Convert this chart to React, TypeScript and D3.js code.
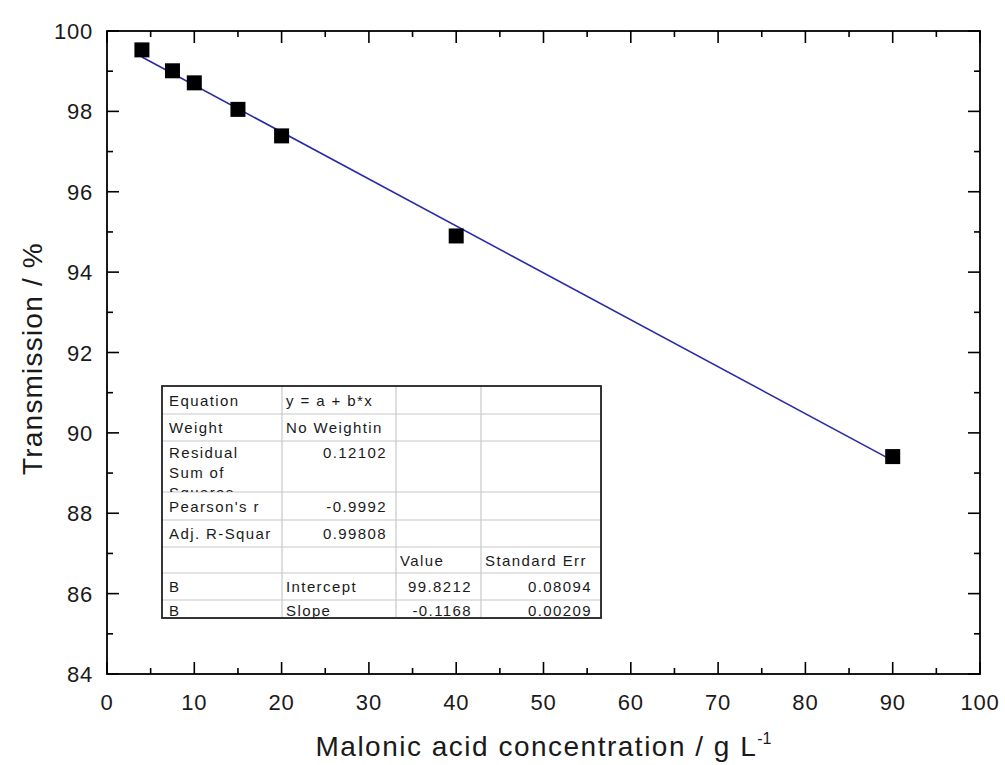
import React from "react";
import * as d3 from "d3";

// Malonic acid calibration: transmission vs concentration with linear fit
const concentration = [4, 7.5, 10, 15, 20, 40, 90];
const transmission = [99.53, 99.01, 98.71, 98.05, 97.39, 94.9, 89.41];

const fitIntercept = 99.8212;
const fitSlope = -0.1168;

const xTicksMajor = [0, 10, 20, 30, 40, 50, 60, 70, 80, 90, 100];
const yTicksMajor = [84, 86, 88, 90, 92, 94, 96, 98, 100];

// fit-report table rows: [col1, col2, col3, col4]
const tableRows: string[][] = [
  ["Equation", "y = a + b*x", "", ""],
  ["Weight", "No Weightin", "", ""],
  ["Residual\nSum of\nSquares", "0.12102", "", ""],
  ["Pearson's r", "-0.9992", "", ""],
  ["Adj. R-Squar", "0.99808", "", ""],
  ["", "", "Value", "Standard Err"],
  ["B", "Intercept", "99.8212", "0.08094"],
  ["B", "Slope", "-0.1168", "0.00209"],
];
// which cells are right-aligned numbers
const rightAligned = (r: number, c: number) =>
  (c === 1 && r >= 2 && r <= 4) || (c >= 2 && r >= 6);

const W = 1005;
const H = 765;
const M = { left: 107, right: 25, top: 31, bottom: 91 };

export default function App() {
  const x = d3.scaleLinear().domain([0, 100]).range([M.left, W - M.right]);
  const y = d3.scaleLinear().domain([84, 100]).range([H - M.bottom, M.top]);
  const x0 = x.range()[0];
  const x1 = x.range()[1];
  const y0 = y.range()[0];
  const y1 = y.range()[1];

  const xMinor = d3.range(5, 100, 10);
  const yMinor = d3.range(85, 100, 2);

  const fitLine = d3
    .line<number>()
    .x((d) => x(d))
    .y((d) => y(fitIntercept + fitSlope * d));
  const fitX = [d3.min(concentration)!, d3.max(concentration)!];

  const font = "'Liberation Sans', Arial, sans-serif";
  const majorLen = 12;
  const minorLen = 6;

  // table geometry
  const tLeft = 162;
  const tTop = 386;
  const colEdges = [0, 120, 234, 319, 439].map((v) => tLeft + v);
  const rowHeights = [28, 27, 51, 28, 27, 26, 27, 18];
  const rowEdges = [tTop];
  rowHeights.forEach((h) => rowEdges.push(rowEdges[rowEdges.length - 1] + h));
  const tRight = colEdges[colEdges.length - 1];
  const tBottom = rowEdges[rowEdges.length - 1];
  const baseOffset = (r: number) => (r === 2 ? 17 : r === rowHeights.length - 1 ? 16 : rowHeights[r] / 2 + 5.5);

  return (
    <svg width={W} height={H} style={{ display: "block", position: "absolute", left: 0, top: 0 }}>
      <rect x={0} y={0} width={W} height={H} fill="#fff" />

      {/* fit line */}
      <path d={fitLine(fitX) || ""} fill="none" stroke="#2a2aa8" strokeWidth={1.6} />

      {/* data markers */}
      {concentration.map((c, i) => (
        <rect
          key={i}
          x={x(c) - 7.5}
          y={y(transmission[i]) - 7.5}
          width={15}
          height={15}
          fill="#000"
        />
      ))}

      {/* frame */}
      <rect x={x0} y={y1} width={x1 - x0} height={y0 - y1} fill="none" stroke="#000" strokeWidth={1.8} />

      {/* x ticks bottom & top */}
      {xTicksMajor.map((t) => (
        <g key={"xm" + t} stroke="#000" strokeWidth={1.6}>
          <line x1={x(t)} x2={x(t)} y1={y0} y2={y0 - majorLen} />
          <line x1={x(t)} x2={x(t)} y1={y1} y2={y1 + majorLen} />
        </g>
      ))}
      {xMinor.map((t) => (
        <g key={"xn" + t} stroke="#000" strokeWidth={1.6}>
          <line x1={x(t)} x2={x(t)} y1={y0} y2={y0 - minorLen} />
          <line x1={x(t)} x2={x(t)} y1={y1} y2={y1 + minorLen} />
        </g>
      ))}
      {/* y ticks left & right */}
      {yTicksMajor.map((t) => (
        <g key={"ym" + t} stroke="#000" strokeWidth={1.6}>
          <line x1={x0} x2={x0 + majorLen} y1={y(t)} y2={y(t)} />
          <line x1={x1} x2={x1 - majorLen} y1={y(t)} y2={y(t)} />
        </g>
      ))}
      {yMinor.map((t) => (
        <g key={"yn" + t} stroke="#000" strokeWidth={1.6}>
          <line x1={x0} x2={x0 + minorLen} y1={y(t)} y2={y(t)} />
          <line x1={x1} x2={x1 - minorLen} y1={y(t)} y2={y(t)} />
        </g>
      ))}

      {/* tick labels */}
      {xTicksMajor.map((t) => (
        <text
          key={"xl" + t}
          x={x(t)}
          y={y0 + 36}
          textAnchor="middle"
          fontFamily={font}
          fontSize={22}
          letterSpacing={0.8}
          fill="#1a1a1a"
        >
          {t}
        </text>
      ))}
      {yTicksMajor.map((t) => (
        <text
          key={"yl" + t}
          x={x0 - 14}
          y={y(t) + 8}
          textAnchor="end"
          fontFamily={font}
          fontSize={22}
          letterSpacing={0.8}
          fill="#1a1a1a"
        >
          {t}
        </text>
      ))}

      {/* axis titles */}
      <text
        x={(x0 + x1) / 2}
        y={756}
        textAnchor="middle"
        fontFamily={font}
        fontSize={28}
        letterSpacing={1.5}
        fill="#1a1a1a"
      >
        Malonic acid concentration / g L
        <tspan fontSize={16} dy={-12} letterSpacing={0}>-1</tspan>
      </text>
      <text
        transform={`translate(42, ${(y0 + y1) / 2 + 6}) rotate(-90)`}
        textAnchor="middle"
        fontFamily={font}
        fontSize={28}
        letterSpacing={1.2}
        fill="#1a1a1a"
      >
        Transmission / %
      </text>

      {/* fit report table */}
      <g>
        <rect x={tLeft + 1} y={tTop + 1} width={tRight - tLeft} height={tBottom - tTop} fill="#bbb" />
        <rect x={tLeft} y={tTop} width={tRight - tLeft} height={tBottom - tTop} fill="#fff" />
        {rowEdges.slice(1, -1).map((ry, i) => (
          <line key={"tr" + i} x1={tLeft} x2={tRight} y1={ry} y2={ry} stroke="#c8c8c8" strokeWidth={1.2} />
        ))}
        {colEdges.slice(1, -1).map((cx, i) => (
          <line key={"tc" + i} x1={cx} x2={cx} y1={tTop} y2={tBottom} stroke="#c8c8c8" strokeWidth={1.2} />
        ))}
        <defs>
          {tableRows.map((_, r) =>
            colEdges.slice(0, -1).map((cx, c) => (
              <clipPath key={`cp${r}-${c}`} id={`cell-${r}-${c}`}>
                <rect x={cx} y={rowEdges[r]} width={colEdges[c + 1] - cx} height={rowEdges[r + 1] - rowEdges[r] + (r === rowHeights.length - 1 ? 4 : 0)} />
              </clipPath>
            ))
          )}
        </defs>
        {tableRows.map((row, r) =>
          row.map((txt, c) => {
            if (!txt) return null;
            const right = rightAligned(r, c);
            const tx = right ? colEdges[c + 1] - 9 : colEdges[c] + (c === 0 ? 7 : 4);
            const lines = txt.split("\n");
            return (
              <text
                key={`t${r}-${c}`}
                clipPath={`url(#cell-${r}-${c})`}
                x={tx}
                y={rowEdges[r] + baseOffset(r)}
                textAnchor={right ? "end" : "start"}
                fontFamily={font}
                fontSize={15}
                letterSpacing={1.4}
                fill="#1a1a1a"
              >
                {lines.map((ln, k) => (
                  <tspan key={k} x={tx} dy={k === 0 ? 0 : 20}>
                    {ln}
                  </tspan>
                ))}
              </text>
            );
          })
        )}
        <rect x={tLeft} y={tTop} width={tRight - tLeft} height={tBottom - tTop} fill="none" stroke="#222" strokeWidth={1.8} />
      </g>
    </svg>
  );
}
